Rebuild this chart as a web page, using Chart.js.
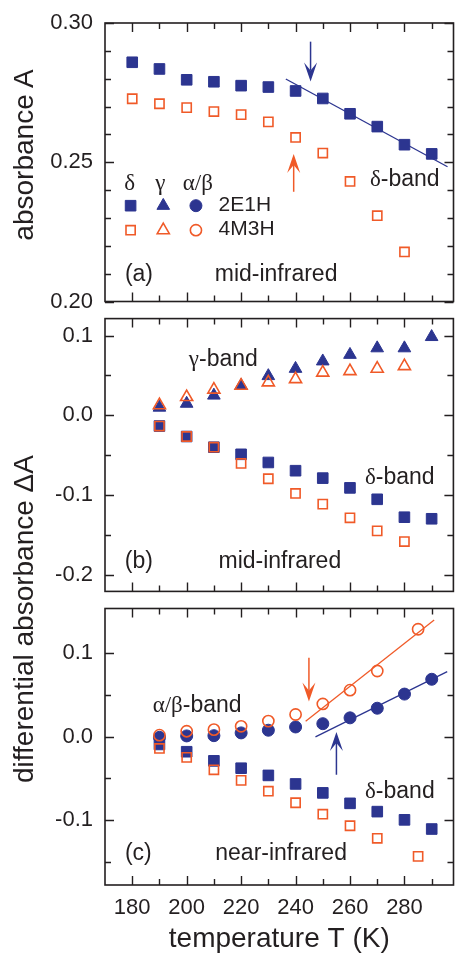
<!DOCTYPE html>
<html>
<head>
<meta charset="utf-8">
<script src="https://cdn.jsdelivr.net/npm/chart.js@4.4.1/dist/chart.umd.min.js"></script>
<style>
  body { margin: 0; background: #fff; }
  #figure { position: relative; width: 462px; height: 956px; font-family: 'Liberation Sans', Arial, sans-serif; color: #231f20; }
  canvas { position: absolute; left: 0; }
  .ytitle { position: absolute; font-size: 28px; line-height: 1; white-space: nowrap; transform: translate(-50%, -50%) rotate(-90deg); }
</style>
</head>
<body>
<div id="figure">
  <canvas id="chartA" width="462" height="310" style="top:0px"></canvas>
  <canvas id="chartB" width="462" height="290" style="top:310px"></canvas>
  <canvas id="chartC" width="462" height="356" style="top:600px"></canvas>
  <div class="ytitle" style="left:24px; top:155px">absorbance A</div>
  <div class="ytitle" style="left:24px; top:619px">differential absorbance ΔA</div>
</div>
<script>
// temperatures (K)
const tempA = [180, 190, 200, 210, 220, 230, 240, 250, 260, 270, 280, 290];
const tempA4M = [180, 190, 200, 210, 220, 230, 240, 250, 260, 270, 280];
const tempB = [190, 200, 210, 220, 230, 240, 250, 260, 270, 280, 290];
const tempB4M = [190, 200, 210, 220, 230, 240, 250, 260, 270, 280];
const tempC = [190, 200, 210, 220, 230, 240, 250, 260, 270, 280, 290];
const tempC4M = [190, 200, 210, 220, 230, 240, 250, 260, 270, 285];

// (a) mid-infrared absorbance, delta band
const absDelta2E1H = [0.2859, 0.2835, 0.2796, 0.2789, 0.2775, 0.2770, 0.2756, 0.2729, 0.2674, 0.2628, 0.2563, 0.2530];
const absDelta4M3H = [0.2728, 0.2710, 0.2696, 0.2682, 0.2671, 0.2645, 0.2589, 0.2533, 0.2431, 0.2308, 0.2178];
const fitA_T = [236.4, 295.8];
const fitA_A = [0.2799, 0.2484];

// (b) mid-infrared differential absorbance
const gammaMid2E1H = [0.0099, 0.0148, 0.0250, 0.0372, 0.0494, 0.0585, 0.0678, 0.0760, 0.0842, 0.0842, 0.0983];
const gammaMid4M3H = [0.0128, 0.0230, 0.0323, 0.0372, 0.0414, 0.0454, 0.0536, 0.0555, 0.0585, 0.0617];
const deltaMid2E1H = [-0.0133, -0.0264, -0.0398, -0.0487, -0.0589, -0.0692, -0.0785, -0.0907, -0.1050, -0.1274, -0.1294];
const deltaMid4M3H = [-0.0133, -0.0264, -0.0398, -0.0601, -0.0793, -0.0977, -0.1111, -0.1282, -0.1445, -0.1579];

// (c) near-infrared differential absorbance
const alphaNir2E1H = [-0.0010, 0.0007, 0.0010, 0.0043, 0.0075, 0.0114, 0.0153, 0.0223, 0.0338, 0.0507, 0.0684];
const alphaNir4M3H = [0.0016, 0.0063, 0.0082, 0.0122, 0.0184, 0.0263, 0.0389, 0.0554, 0.0783, 0.1282];
const deltaNir2E1H = [-0.0095, -0.0182, -0.0291, -0.0379, -0.0465, -0.0567, -0.0674, -0.0799, -0.0898, -0.0996, -0.1106];
const deltaNir4M3H = [-0.0143, -0.0249, -0.0398, -0.0524, -0.0654, -0.0792, -0.0929, -0.1067, -0.1217, -0.1433];
const fitC4M_T = [243.7, 290.9];
const fitC4M_A = [0.0181, 0.1392];
const fitC2E_T = [247.3, 295.7];
const fitC2E_A = [-0.0004, 0.0775];

// tick labels
const tempTicks = [180, 200, 220, 240, 260, 280];
const absTicks = [0.20, 0.25, 0.30];
const diffTicksB = [-0.2, -0.1, 0.0, 0.1];
const diffTicksC = [-0.1, 0.0, 0.1];

const BLUE = '#2c3590';
const ORANGE = '#f05a28';
const INK = '#231f20';
const SANS = "'Liberation Sans', Arial, sans-serif";
const SERIF = "'Liberation Serif', 'Times New Roman', serif";

Chart.defaults.font.family = SANS;
Chart.defaults.color = INK;

function pts(xs, ys) {
  return xs.map((x, i) => ({ x: x, y: ys[i] }));
}

const markerSizes = {
  rect: { filled: 7.5, open: 6.5 },
  triangle: { filled: 7.3, open: 7 },
  circle: { filled: 6, open: 5.6 }
};

function markers(xs, ys, style, filled, color) {
  return {
    data: pts(xs, ys),
    showLine: false,
    pointStyle: style,
    pointRadius: markerSizes[style][filled ? 'filled' : 'open'],
    pointBackgroundColor: filled ? color : 'rgba(0,0,0,0)',
    pointBorderColor: color,
    pointBorderWidth: filled ? 1 : 1.6
  };
}

function fitLine(xs, ys, color) {
  return {
    data: pts(xs, ys),
    showLine: true,
    borderColor: color,
    borderWidth: 1.3,
    pointRadius: 0
  };
}

// frame with inward ticks on all four sides
const framePlugin = {
  id: 'frame',
  afterDraw(chart, args, opts) {
    const { ctx, chartArea: a, scales: { x, y } } = chart;
    ctx.save();
    ctx.strokeStyle = INK;
    ctx.lineWidth = 1.6;
    ctx.strokeRect(a.left, a.top, a.right - a.left, a.bottom - a.top);
    ctx.lineWidth = 1.4;
    ctx.beginPath();
    for (let k = 0; ; k++) {
      const v = 180 + k * 10;
      if (v > x.max) break;
      const len = tempTicks.includes(v) ? 9 : 6;
      const px = Math.round(x.getPixelForValue(v)) + 0.5;
      ctx.moveTo(px, a.bottom); ctx.lineTo(px, a.bottom - len);
      ctx.moveTo(px, a.top); ctx.lineTo(px, a.top + len);
    }
    for (let k = 0; ; k++) {
      const v = opts.yStart + k * opts.yStep;
      if (v > opts.yEnd + 1e-9) break;
      const major = opts.yMajor.some(m => Math.abs(m - v) < 1e-9);
      const len = major ? 9 : 6;
      const py = Math.round(y.getPixelForValue(v)) + 0.5;
      ctx.moveTo(a.left, py); ctx.lineTo(a.left + len, py);
      ctx.moveTo(a.right, py); ctx.lineTo(a.right - len, py);
    }
    ctx.stroke();
    ctx.restore();
  }
};

// text labels, arrows and legend symbols placed in data coordinates
const notesPlugin = {
  id: 'notes',
  afterDatasetsDraw(chart, args, opts) {
    const { ctx, scales: { x, y } } = chart;
    ctx.save();
    (opts.items || []).forEach(it => {
      if (it.type === 'text') {
        const px = x.getPixelForValue(it.x);
        const py = y.getPixelForValue(it.y);
        ctx.fillStyle = INK;
        ctx.textBaseline = 'alphabetic';
        ctx.textAlign = 'left';
        const parts = it.parts.map(p => {
          ctx.font = it.size + 'px ' + (p[1] === 'serif' ? SERIF : SANS);
          return { text: p[0], font: ctx.font, w: ctx.measureText(p[0]).width };
        });
        const total = parts.reduce((s, p) => s + p.w, 0);
        let cx = it.align === 'center' ? px - total / 2 : px;
        parts.forEach(p => {
          ctx.font = p.font;
          ctx.fillText(p.text, cx, py);
          cx += p.w;
        });
      } else if (it.type === 'arrow') {
        const px = x.getPixelForValue(it.x);
        const p0 = y.getPixelForValue(it.from);
        const p1 = y.getPixelForValue(it.to);
        const dir = p1 > p0 ? 1 : -1;
        const hl = 19, hw = 6.5, notch = 11;
        ctx.strokeStyle = it.color;
        ctx.fillStyle = it.color;
        ctx.lineWidth = 1.5;
        ctx.beginPath();
        ctx.moveTo(px, p0);
        ctx.lineTo(px, p1 - dir * notch);
        ctx.stroke();
        ctx.beginPath();
        ctx.moveTo(px, p1);
        ctx.lineTo(px - hw, p1 - dir * hl);
        ctx.lineTo(px, p1 - dir * notch);
        ctx.lineTo(px + hw, p1 - dir * hl);
        ctx.closePath();
        ctx.fill();
      } else if (it.type === 'marker') {
        const px = x.getPixelForValue(it.x);
        const py = y.getPixelForValue(it.y);
        ctx.fillStyle = it.filled ? it.color : 'rgba(0,0,0,0)';
        ctx.strokeStyle = it.color;
        ctx.lineWidth = it.filled ? 1 : 1.6;
        Chart.helpers.drawPoint(ctx, {
          pointStyle: it.style,
          radius: markerSizes[it.style][it.filled ? 'filled' : 'open'],
          rotation: 0,
          borderWidth: it.filled ? 1 : 1.6
        }, px, py);
      }
    });
    ctx.restore();
  }
};

function makePanel(id, cfg) {
  return new Chart(document.getElementById(id), {
    type: 'scatter',
    data: { datasets: cfg.datasets },
    options: {
      responsive: false,
      animation: false,
      devicePixelRatio: 1,
      events: [],
      layout: { padding: cfg.padding },
      plugins: {
        legend: { display: false },
        tooltip: { enabled: false },
        frame: cfg.frame,
        notes: { items: cfg.notes }
      },
      scales: {
        x: {
          type: 'linear',
          min: 170,
          max: 298,
          display: cfg.showX,
          afterBuildTicks: s => { s.ticks = tempTicks.map(v => ({ value: v })); },
          grid: { display: false, drawTicks: false },
          border: { display: false },
          ticks: { padding: 10, font: { size: 22 }, maxRotation: 0, autoSkip: false },
          title: { display: cfg.showX, text: 'temperature T (K)', font: { size: 28 }, padding: 0 },
          afterFit: s => {
            s.paddingLeft = 0;
            s.paddingRight = 0;
            if (cfg.showX) s.height = 71;
          }
        },
        y: {
          type: 'linear',
          min: cfg.yMin,
          max: cfg.yMax,
          afterBuildTicks: s => { s.ticks = cfg.yTicks.map(v => ({ value: v })); },
          grid: { display: false, drawTicks: false },
          border: { display: false },
          ticks: { padding: 12, font: { size: 22 }, callback: v => v.toFixed(cfg.decimals) },
          afterFit: s => {
            s.paddingTop = 0;
            s.paddingBottom = 0;
            s.width = 105;
          }
        }
      }
    },
    plugins: [framePlugin, notesPlugin]
  });
}

const bandSize = 23;

// (a) absorbance, mid-infrared
makePanel('chartA', {
  padding: { top: 23, right: 4, bottom: 8, left: 0 },
  showX: false,
  yMin: 0.20, yMax: 0.30, yTicks: absTicks, decimals: 2,
  frame: { yStart: 0.20, yStep: 0.01, yEnd: 0.30, yMajor: absTicks },
  datasets: [
    markers(tempA4M, absDelta4M3H, 'rect', false, ORANGE),
    markers(tempA, absDelta2E1H, 'rect', true, BLUE),
    fitLine(fitA_T, fitA_A, BLUE)
  ],
  notes: [
    { type: 'text', x: 179.1, y: 0.2401, parts: [['δ', 'serif']], size: 23, align: 'center' },
    { type: 'text', x: 190.3, y: 0.2401, parts: [['γ', 'serif']], size: 23, align: 'center' },
    { type: 'text', x: 204.1, y: 0.2401, parts: [['α/β', 'serif']], size: 23, align: 'center' },
    { type: 'marker', x: 179.4, y: 0.2344, style: 'rect', filled: true, color: BLUE },
    { type: 'marker', x: 191.4, y: 0.2344, style: 'triangle', filled: true, color: BLUE },
    { type: 'marker', x: 203.4, y: 0.2344, style: 'circle', filled: true, color: BLUE },
    { type: 'marker', x: 179.4, y: 0.2256, style: 'rect', filled: false, color: ORANGE },
    { type: 'marker', x: 191.4, y: 0.2256, style: 'triangle', filled: false, color: ORANGE },
    { type: 'marker', x: 203.4, y: 0.2256, style: 'circle', filled: false, color: ORANGE },
    { type: 'text', x: 211.7, y: 0.2324, parts: [['2E1H', 'sans']], size: 21 },
    { type: 'text', x: 211.7, y: 0.2237, parts: [['4M3H', 'sans']], size: 21 },
    { type: 'text', x: 267.3, y: 0.2413, parts: [['δ', 'serif'], ['-band', 'sans']], size: bandSize },
    { type: 'text', x: 177.3, y: 0.2075, parts: [['(a)', 'sans']], size: 23 },
    { type: 'text', x: 210.3, y: 0.2075, parts: [['mid-infrared', 'sans']], size: 23 },
    { type: 'arrow', x: 245.5, from: 0.2933, to: 0.2790, color: BLUE },
    { type: 'arrow', x: 239.3, from: 0.2394, to: 0.2530, color: ORANGE }
  ]
});

// (b) differential absorbance, mid-infrared
makePanel('chartB', {
  padding: { top: 5, right: 4, bottom: 6, left: 0 },
  showX: false,
  yMin: -0.2203, yMax: 0.1212, yTicks: diffTicksB, decimals: 1,
  frame: { yStart: -0.2, yStep: 0.05, yEnd: 0.1, yMajor: diffTicksB },
  datasets: [
    markers(tempB4M, gammaMid4M3H, 'triangle', false, ORANGE),
    markers(tempB4M, deltaMid4M3H, 'rect', false, ORANGE),
    markers(tempB, gammaMid2E1H, 'triangle', true, BLUE),
    markers(tempB, deltaMid2E1H, 'rect', true, BLUE)
  ],
  notes: [
    { type: 'text', x: 200.8, y: 0.0621, parts: [['γ', 'serif'], ['-band', 'sans']], size: bandSize },
    { type: 'text', x: 265.5, y: -0.0858, parts: [['δ', 'serif'], ['-band', 'sans']], size: bandSize },
    { type: 'text', x: 177.3, y: -0.1906, parts: [['(b)', 'sans']], size: 23 },
    { type: 'text', x: 211.7, y: -0.1906, parts: [['mid-infrared', 'sans']], size: 23 }
  ]
});

// (c) differential absorbance, near-infrared
makePanel('chartC', {
  padding: { top: 5, right: 4, bottom: 0, left: 0 },
  showX: true,
  yMin: -0.1775, yMax: 0.153, yTicks: diffTicksC, decimals: 1,
  frame: { yStart: -0.15, yStep: 0.05, yEnd: 0.1, yMajor: diffTicksC },
  datasets: [
    markers(tempC4M, alphaNir4M3H, 'circle', false, ORANGE),
    markers(tempC4M, deltaNir4M3H, 'rect', false, ORANGE),
    fitLine(fitC4M_T, fitC4M_A, ORANGE),
    markers(tempC, alphaNir2E1H, 'circle', true, BLUE),
    markers(tempC, deltaNir2E1H, 'rect', true, BLUE),
    fitLine(fitC2E_T, fitC2E_A, BLUE)
  ],
  notes: [
    { type: 'text', x: 187.5, y: 0.0291, parts: [['α/β', 'serif'], ['-band', 'sans']], size: bandSize },
    { type: 'text', x: 265.5, y: -0.0733, parts: [['δ', 'serif'], ['-band', 'sans']], size: bandSize },
    { type: 'text', x: 177.3, y: -0.148, parts: [['(c)', 'sans']], size: 23 },
    { type: 'text', x: 210.5, y: -0.148, parts: [['near-infrared', 'sans']], size: 23 },
    { type: 'arrow', x: 244.9, from: 0.094, to: 0.0417, color: ORANGE },
    { type: 'arrow', x: 255.0, from: -0.0457, to: 0.0054, color: BLUE }
  ]
});
</script>
</body>
</html>
